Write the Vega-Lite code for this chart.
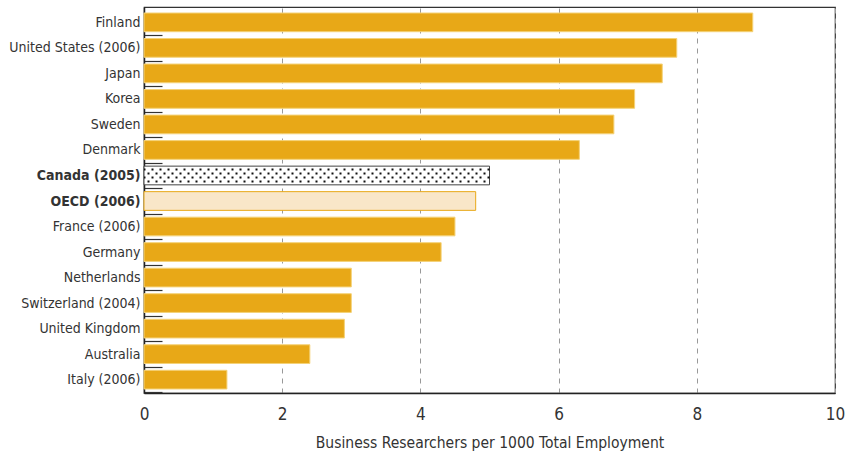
{
  "$schema": "https://vega.github.io/schema/vega-lite/v6.json",
  "autosize": {"type": "none"},
  "width": 691,
  "height": 386,
  "padding": {"left": 144, "top": 7, "right": 11, "bottom": 62},
  "background": "white",
  "config": {
    "view": {"stroke": "#333", "strokeWidth": 1.2},
    "font": "DejaVu Sans Condensed, sans-serif"
  },
  "data": {
    "values": [
      {"country": "Finland", "value": 8.81, "group": "normal"},
      {"country": "United States (2006)", "value": 7.71, "group": "normal"},
      {"country": "Japan", "value": 7.5, "group": "normal"},
      {"country": "Korea", "value": 7.1, "group": "normal"},
      {"country": "Sweden", "value": 6.8, "group": "normal"},
      {"country": "Denmark", "value": 6.3, "group": "normal"},
      {"country": "Canada (2005)", "value": 5.0, "group": "canada"},
      {"country": "OECD (2006)", "value": 4.8, "group": "oecd"},
      {"country": "France (2006)", "value": 4.5, "group": "normal"},
      {"country": "Germany", "value": 4.3, "group": "normal"},
      {"country": "Netherlands", "value": 3.0, "group": "normal"},
      {"country": "Switzerland (2004)", "value": 3.0, "group": "normal"},
      {"country": "United Kingdom", "value": 2.9, "group": "normal"},
      {"country": "Australia", "value": 2.4, "group": "normal"},
      {"country": "Italy (2006)", "value": 1.2, "group": "normal"}
    ]
  },
  "encoding": {
    "y": {
      "field": "country",
      "type": "nominal",
      "sort": null,
      "scale": {"paddingInner": 0.267, "paddingOuter": 0.196, "align": 0.6},
      "axis": {
        "title": null,
        "domain": true,
        "domainColor": "#222",
        "domainWidth": 1.5,
        "tickOffset": 12.76,
        "labelOffset": -12.76,
        "tickSize": -18,
        "tickColor": "#333",
        "tickWidth": 1.2,
        "labelPadding": 22,
        "labelFontSize": 14,
        "labelColor": "#333",
        "labelFontWeight": {
          "condition": {"test": "datum.value === 'Canada (2005)' || datum.value === 'OECD (2006)'", "value": "bold"},
          "value": "normal"
        }
      }
    },
    "x": {
      "field": "value",
      "type": "quantitative",
      "scale": {"domain": [0, 10], "nice": false},
      "axis": {
        "values": [0, 2, 4, 6, 8, 10],
        "title": "Business Researchers per 1000 Total Employment",
        "titleFontSize": 15.5,
        "titleFontWeight": "normal",
        "titleColor": "#333",
        "titlePadding": 13,
        "labelFontSize": 17,
        "labelColor": "#333",
        "labelPadding": 13,
        "labelFlush": false,
        "ticks": false,
        "domain": true,
        "domainColor": "#222",
        "domainWidth": 1.5,
        "grid": true,
        "gridDash": [5, 5],
        "gridColor": "#999",
        "gridWidth": 1
      }
    }
  },
  "layer": [
    {
      "mark": {"type": "bar", "strokeWidth": 1},
      "encoding": {
        "fill": {
          "field": "group",
          "type": "nominal",
          "scale": {"domain": ["normal", "canada", "oecd"], "range": ["#E8A817", "#ffffff", "#F9E6C8"]},
          "legend": null
        },
        "stroke": {
          "field": "group",
          "type": "nominal",
          "scale": {"domain": ["normal", "canada", "oecd"], "range": ["#F4D278", "#444444", "#E8A817"]},
          "legend": null
        }
      }
    },
    {
      "transform": [{"filter": "datum.group === 'canada'"}],
      "mark": {"type": "rule", "color": "#111", "strokeWidth": 2, "strokeDash": [2, 6], "strokeDashOffset": 0, "yOffset": -6, "strokeCap": "butt"},
      "encoding": {"x2": {"datum": 0}}
    },
    {
      "transform": [{"filter": "datum.group === 'canada'"}],
      "mark": {"type": "rule", "color": "#111", "strokeWidth": 2, "strokeDash": [2, 6], "strokeDashOffset": 4, "yOffset": -2, "strokeCap": "butt"},
      "encoding": {"x2": {"datum": 0}}
    },
    {
      "transform": [{"filter": "datum.group === 'canada'"}],
      "mark": {"type": "rule", "color": "#111", "strokeWidth": 2, "strokeDash": [2, 6], "strokeDashOffset": 0, "yOffset": 2, "strokeCap": "butt"},
      "encoding": {"x2": {"datum": 0}}
    },
    {
      "transform": [{"filter": "datum.group === 'canada'"}],
      "mark": {"type": "rule", "color": "#111", "strokeWidth": 2, "strokeDash": [2, 6], "strokeDashOffset": 4, "yOffset": 6, "strokeCap": "butt"},
      "encoding": {"x2": {"datum": 0}}
    }
  ]
}
